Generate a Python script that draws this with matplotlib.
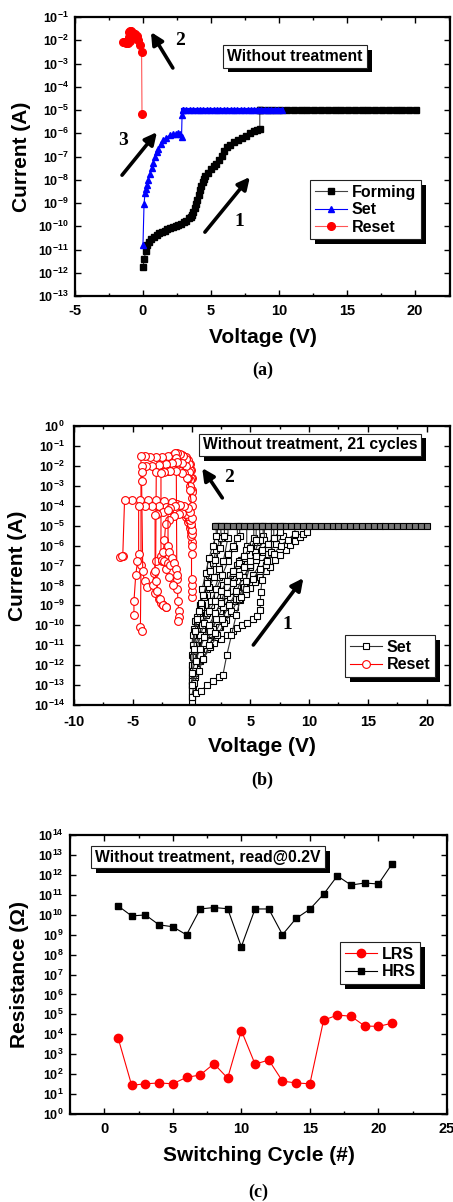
"""Forming / set / reset curves and resistance vs cycle"""
import numpy as np
import matplotlib
matplotlib.use('Agg')
import matplotlib.pyplot as plt
import matplotlib.patheffects as pe
from matplotlib.ticker import LogLocator, NullLocator, AutoMinorLocator, FuncFormatter, MultipleLocator

plt.rcParams['font.family'] = 'Liberation Sans'
plt.rcParams['font.weight'] = 'bold'
plt.rcParams['axes.unicode_minus'] = False
plt.rcParams['mathtext.fontset'] = 'custom'
plt.rcParams['mathtext.rm'] = 'Liberation Sans'
plt.rcParams['mathtext.bf'] = 'Liberation Sans:bold'

# ---------------- (a) without treatment, single sweep ----------------
forming_V = [0, 0.1, 0.2, 0.3, 0.45, 0.6, 0.8, 1.0, 1.2, 1.4, 1.6, 1.8, 2.0, 2.2, 2.4, 2.6,
             2.8, 3.0, 3.2, 3.4, 3.5, 3.6, 3.7, 3.8, 3.9, 4.0, 4.1, 4.2, 4.3, 4.4, 4.5, 4.6,
             4.8, 5.0, 5.2, 5.4, 5.6, 5.8, 6.0, 6.2, 6.4, 6.7, 7.0, 7.3, 7.6, 7.9, 8.2, 8.4, 8.6]
forming_I = [1.7e-12, 4e-12, 9e-12, 1.5e-11, 2.2e-11, 2.8e-11, 3.5e-11, 4.2e-11, 5e-11, 5.8e-11,
             6.6e-11, 7.4e-11, 8.3e-11, 9.2e-11, 1.02e-10, 1.15e-10, 1.3e-10, 1.5e-10, 1.75e-10,
             2.2e-10, 2.6e-10, 3.2e-10, 4.2e-10, 6e-10, 9e-10, 1.4e-9, 2.2e-9, 3.5e-9, 5.5e-9,
             8e-9, 1.1e-8, 1.4e-8, 2e-8, 2.8e-8, 3.8e-8, 5e-8, 7e-8, 1.1e-7, 1.7e-7, 2.5e-7,
             3.2e-7, 4.2e-7, 5.2e-7, 6.5e-7, 8e-7, 1e-6, 1.2e-6, 1.4e-6, 1.6e-6]
forming_cc_V = [8.6, 9.1, 9.6, 10.1, 10.6, 11.1, 11.6, 12.1, 12.6, 13.1, 13.6, 14.1, 14.6, 15.1,
                15.6, 16.1, 16.6, 17.1, 17.6, 18.1, 18.6, 19.1, 19.6, 20.1]
set_V = [0.0, 0.08, 0.15, 0.22, 0.3, 0.39, 0.5, 0.64, 0.76, 0.88, 1.0, 1.13, 1.3, 1.5, 1.7,
         1.99, 2.2, 2.4, 2.6, 2.75, 2.84, 2.88]
set_I = [1.5e-11, 9e-10, 2.6e-9, 4e-9, 6e-9, 1e-8, 1.7e-8, 3.1e-8, 5.5e-8, 1e-7, 1.5e-7,
         2.2e-7, 3.5e-7, 5.1e-7, 6.5e-7, 8.3e-7, 9e-7, 9.5e-7, 1e-6, 9e-7, 7e-7, 6.3e-6]
set_cc_V = [2.95, 3.2, 3.45, 3.7, 3.95, 4.2, 4.45, 4.7, 4.95, 5.2, 5.45, 5.7, 5.95, 6.2, 6.45,
            6.7, 6.95, 7.2, 7.45, 7.7, 7.95, 8.2, 8.45, 8.7, 8.95, 9.2, 9.45, 9.7, 9.95, 10.2]
compliance = 1e-5
reset_V = [-0.07, -0.1, -0.2, -0.33, -0.47, -0.6, -0.71, -0.85, -0.96, -1.05, -1.04, -0.93,
           -1.1, -1.25, -1.4, -1.45]
reset_I = [6.8e-6, 3e-3, 6.3e-3, 1e-2, 1.5e-2, 1.8e-2, 2.1e-2, 2.4e-2, 2.6e-2, 2.3e-2, 1.4e-2,
           9.5e-3, 8e-3, 8e-3, 8.5e-3, 8.7e-3]

# ---------------- (b) 21 cycles (log10 of current) ----------------
b_set_V = [
    [0.0, 0.17, 0.45, 0.74, 1.15, 1.6, 2.0, 2.44, 2.9, 3.3, 3.7, 4.15, 4.6, 5.0, 5.4, 5.85, 6.3, 6.7, 7.1, 7.56, 8.0, 8.4, 8.8, 9.2, 9.5, 9.83, 9.83],
    [0.0, 0.3, 0.8, 1.5, 2.3, 3.0, 3.8, 4.5, 5.2, 5.9, 6.5, 7.2, 7.8, 7.8],
    [0.0, 0.1, 0.2, 0.4, 0.7, 1.0, 1.3, 1.6, 1.9, 2.2, 2.2],
    [0.0, 0.2, 0.5, 0.9, 1.3, 1.8, 2.3, 2.7, 3.1, 3.1],
    [0.0, 0.3, 0.7, 1.2, 1.8, 2.4, 3.0, 3.6, 4.2, 4.7, 4.7],
    [0.0, 0.4, 0.74, 1.3, 1.88, 2.5, 3.0, 3.5, 3.86, 4.3, 4.7, 5.2, 5.6, 5.85, 5.85, 5.9, 6.0, 6.3, 6.8, 6.8],
    [0.0, 0.2, 0.5, 0.8, 1.2, 1.7, 2.2, 2.7, 3.3, 3.9, 4.5, 5.1, 5.6, 6.1, 6.1],
    [0.0, 0.15, 0.3, 0.6, 1.0, 1.5, 2.0, 2.5, 3.0, 3.5, 4.0, 4.6, 5.3, 5.3],
    [0.0, 0.1, 0.3, 0.6, 0.9, 1.2, 1.5, 1.8, 2.1, 2.5, 2.5],
    [0.0, 0.5, 1.0, 1.6, 2.2, 2.8, 3.4, 4.0, 4.6, 5.2, 5.8, 6.4, 7.0, 7.6, 8.2, 8.8, 8.8],
    [0.0, 0.1, 0.2, 0.35, 0.5, 0.7, 0.9, 1.2, 1.5, 1.8, 2.1, 2.1],
    [0.0, 0.3, 0.7, 1.1, 1.6, 2.1, 2.7, 3.3, 3.9, 4.4, 5.0, 5.5, 6.0, 6.5, 7.0, 7.0],
    [0.0, 0.15, 0.35, 0.6, 0.9, 1.3, 1.7, 2.1, 2.6, 3.1, 3.6, 4.1, 4.1],
    [0.0, 0.25, 0.6, 1.0, 1.5, 2.0, 2.6, 3.2, 3.8, 4.4, 5.0, 5.6, 6.2, 6.2],
    [0.0, 0.4, 0.8, 1.3, 1.8, 2.3, 2.67, 3.0, 3.4, 3.8, 4.2, 4.6, 5.0, 5.4, 5.8, 5.8],
    [0.0, 0.1, 0.25, 0.5, 0.8, 1.1, 1.5, 1.9, 2.3, 2.7, 3.1, 3.5, 3.9, 3.9],
    [0.0, 0.2, 0.45, 0.75, 1.1, 1.5, 2.0, 2.5, 3.0, 3.5, 4.0, 4.5, 5.0, 5.5, 5.5],
    [0.0, 0.1, 0.2, 0.3, 0.45, 0.6, 0.8, 1.0, 1.3, 1.6, 2.0, 2.4, 2.8, 2.8],
    [0.0, 0.35, 0.7, 1.1, 1.5, 2.0, 2.5, 3.0, 3.5, 4.0, 4.5, 5.0, 5.5, 6.0, 6.5, 7.0, 7.5, 7.5],
]
b_set_logI = [
    [-12.6, -12.07, -11.7, -11.4, -11.05, -10.74, -10.4, -10.07, -9.73, -9.4, -9.07, -8.73, -8.43, -8.14, -7.85, -7.56, -7.3, -7.06, -6.75, -6.47, -6.2, -5.97, -5.75, -5.55, -5.42, -5.3, -5.0],
    [-13.0, -12.3, -11.6, -10.8, -10.1, -9.4, -8.7, -8.1, -7.5, -6.9, -6.4, -5.9, -5.5, -5.0],
    [-12.5, -11.5, -10.5, -9.8, -9.0, -8.3, -7.6, -7.0, -6.5, -5.8, -5.0],
    [-13.2, -12.0, -11.0, -10.2, -9.3, -8.5, -7.6, -6.8, -5.6, -5.0],
    [-13.5, -12.6, -11.8, -11.0, -10.2, -9.3, -8.5, -7.6, -6.7, -6.0, -5.0],
    [-13.0, -12.2, -11.57, -11.2, -10.9, -10.7, -10.5, -10.3, -10.15, -10.0, -9.9, -9.7, -9.53, -9.23, -8.81, -8.31, -7.72, -7.0, -6.3, -5.0],
    [-12.0, -11.0, -10.3, -9.9, -9.5, -9.0, -8.5, -8.0, -7.5, -7.0, -6.6, -6.1, -5.8, -5.5, -5.0],
    [-13.8, -13.2, -12.5, -11.8, -11.0, -10.2, -9.5, -8.8, -8.1, -7.4, -6.8, -6.2, -5.6, -5.0],
    [-11.5, -10.5, -9.8, -9.4, -9.0, -8.2, -7.5, -6.9, -6.2, -5.6, -5.0],
    [-12.8, -12.2, -11.7, -11.1, -10.5, -9.9, -9.3, -8.7, -8.2, -7.7, -7.2, -6.8, -6.4, -6.0, -5.7, -5.4, -5.0],
    [-12.8, -12.0, -11.3, -10.5, -9.8, -9.0, -8.2, -7.4, -6.6, -6.0, -5.5, -5.0],
    [-13.3, -12.4, -11.5, -10.9, -10.3, -9.7, -9.1, -8.6, -8.1, -7.6, -7.1, -6.7, -6.3, -5.9, -5.6, -5.0],
    [-12.2, -11.6, -11.0, -10.5, -10.0, -9.4, -8.8, -8.2, -7.5, -6.8, -6.1, -5.5, -5.0],
    [-13.6, -12.9, -12.3, -11.7, -11.0, -10.4, -9.7, -9.0, -8.3, -7.6, -7.0, -6.3, -5.7, -5.0],
    [-13.6, -13.4, -13.3, -13.0, -12.8, -12.6, -12.5, -11.5, -10.5, -9.5, -8.6, -7.8, -7.0, -6.3, -5.7, -5.0],
    [-12.0, -11.0, -10.2, -9.6, -9.1, -8.6, -8.1, -7.6, -7.2, -6.8, -6.4, -6.0, -5.6, -5.0],
    [-13.0, -12.0, -11.2, -10.5, -9.9, -9.3, -8.8, -8.3, -7.8, -7.3, -6.9, -6.5, -6.1, -5.7, -5.0],
    [-13.0, -12.3, -11.2, -10.3, -9.7, -9.3, -8.9, -8.5, -7.9, -7.3, -6.7, -6.1, -5.5, -5.0],
    [-12.4, -11.8, -11.2, -10.6, -10.0, -9.4, -8.9, -8.4, -7.9, -7.5, -7.1, -6.8, -6.5, -6.2, -5.9, -5.6, -5.3, -5.0],
]
b_cc_V = [2.0, 2.5, 3.0, 3.5, 4.0, 4.5, 5.0, 5.5, 6.0, 6.5, 7.0, 7.5, 8.0, 8.5, 9.0, 9.5, 10.0,
          10.5, 11.0, 11.5, 12.0, 12.5, 13.0, 13.5, 14.0, 14.5, 15.0, 15.5, 16.0, 16.5, 17.0,
          17.5, 18.0, 18.5, 19.0, 19.5, 20.0]
b_reset_V = [
    [0.0, -0.05, -0.15, -0.3, -0.5, -0.8, -1.2, -1.6, -2.0, -2.5, -3.0, -3.5, -4.0, -4.3, -4.3, -4.35, -4.25],
    [0.0, -0.05, -0.12, -0.25, -0.45, -0.7, -1.0, -1.25, -1.39, -1.3, -1.25, -1.2, -1.15, -1.1, -1.1, -1.12],
    [0.0, -0.1, -0.25, -0.5, -0.8, -1.2, -1.7, -2.2, -2.8, -3.4, -3.9, -4.2, -4.2, -4.25, -4.15, -4.0, -3.8],
    [0.0, -0.1, -0.3, -0.6, -1.0, -1.5, -2.0, -2.5, -3.0, -3.05, -3.2, -3.3, -3.1, -2.8, -2.6, -2.4, -2.2],
    [0.0, -0.15, -0.4, -0.8, -1.3, -1.8, -2.3, -2.6, -2.6, -2.5, -2.2, -1.9, -1.6],
    [0.0, 0.0, 0.0, 0.0, 0.0, 0.0, -0.05, -0.15, -0.3, -0.5, -0.8, -1.2, -1.7, -2.3, -3.0, -3.7, -4.4, -5.1, -5.7, -5.85, -6.05, -5.95],
    [0.0, -0.05, -0.15, -0.3, -0.5, -0.8, -1.2, -1.7, -2.2, -2.8, -3.4, -4.0, -4.5, -4.5, -4.6, -4.75, -4.9, -4.9],
    [0.0, -0.05, -0.2, -0.4, -0.7, -1.0, -1.4, -1.9, -2.4, -2.9, -3.1, -3.1, -3.0, -2.9, -2.7, -2.4, -2.2],
    [0.0, -0.05, -0.15, -0.3, -0.5, -0.8, -1.1, -1.5, -1.9, -2.2, -2.3, -2.4, -2.5, -2.3, -2.0, -1.8],
    [0.0, -0.1, -0.3, -0.6, -1.0, -1.4, -1.8, -2.0, -2.0, -1.9, -1.7, -1.5, -1.3, -1.2],
]
b_reset_logI = [
    [-2.6, -2.2, -1.9, -1.7, -1.55, -1.45, -1.42, -1.45, -1.5, -1.55, -1.55, -1.55, -1.52, -1.5, -7.0, -10.1, -10.3],
    [-3.2, -2.6, -2.2, -1.9, -1.65, -1.5, -1.42, -1.38, -1.37, -1.6, -7.7, -8.2, -8.8, -9.3, -9.6, -9.8],
    [-3.3, -2.7, -2.3, -2.0, -1.85, -1.8, -1.85, -1.9, -1.95, -2.0, -2.0, -2.0, -2.3, -2.75, -7.3, -7.8, -8.1],
    [-3.6, -3.0, -2.6, -2.35, -2.25, -2.2, -2.25, -2.3, -2.3, -6.8, -7.4, -8.0, -8.4, -8.7, -8.9, -9.0, -9.1],
    [-4.0, -3.2, -2.6, -2.35, -2.25, -2.25, -2.3, -2.35, -6.5, -6.8, -7.2, -7.6, -8.0],
    [-8.6, -8.3, -8.0, -7.7, -6.4, -5.8, -5.3, -4.9, -4.5, -4.25, -4.05, -3.9, -3.8, -3.75, -3.72, -3.72, -3.72, -3.72, -3.73, -6.5, -6.55, -6.5],
    [-6.0, -5.5, -5.1, -4.8, -4.55, -4.35, -4.2, -4.1, -4.05, -4.0, -4.0, -4.0, -4.0, -6.4, -6.8, -7.5, -8.8, -9.5],
    [-5.4, -5.0, -4.7, -4.45, -4.3, -4.2, -4.15, -4.2, -4.3, -4.4, -4.45, -7.3, -7.8, -8.3, -8.7, -9.0, -9.1],
    [-5.2, -4.9, -4.7, -4.5, -4.4, -4.35, -4.4, -4.5, -4.7, -4.9, -5.7, -6.3, -6.7, -6.8, -6.9, -7.0],
    [-4.6, -4.3, -4.1, -4.0, -3.95, -4.0, -4.1, -4.2, -6.0, -6.3, -6.6, -6.9, -7.2, -7.5],
]

# ---------------- (c) resistance read @0.2V ----------------
cycles = list(range(1, 22))
lrs = [6.9e3, 27.5, 33, 36, 33, 69, 91, 335, 63, 1.55e4, 320, 510, 45, 36, 33,
       5.1e4, 9.2e4, 8.1e4, 2.6e4, 2.5e4, 3.6e4]
hrs = [2.8e10, 8.7e9, 9.8e9, 3.1e9, 2.5e9, 9.8e8, 1.95e10, 2.3e10, 2.0e10, 2.5e8, 1.95e10,
       1.95e10, 1e9, 6.6e9, 1.9e10, 1.07e11, 8.9e11, 3.1e11, 3.9e11, 3.5e11, 3.6e12]


def sci(v, pos):
    return r'$\mathbf{10^{%d}}$' % int(round(np.log10(v)))


def style(ax, xlim, ylim, xmaj, xpad=6, ypad=4.5):
    ax.set_yscale('log')
    ax.set_xlim(*xlim)
    ax.set_ylim(*ylim)
    ax.yaxis.set_major_locator(LogLocator(base=10, numticks=30))
    ax.yaxis.set_minor_locator(NullLocator())
    ax.yaxis.set_major_formatter(FuncFormatter(sci))
    ax.xaxis.set_major_locator(MultipleLocator(xmaj))
    ax.xaxis.set_minor_locator(AutoMinorLocator(2))
    ax.tick_params(which='both', direction='in', top=True, right=True, width=1)
    ax.tick_params(which='major', length=4)
    ax.tick_params(which='minor', length=2.5)
    ax.tick_params(axis='x', labelsize=10.5, pad=xpad)
    ax.tick_params(axis='y', labelsize=9, pad=ypad)
    for s in ax.spines.values():
        s.set_linewidth(1.6)


def shadow_box(ax, x, y, s):
    t = ax.text(x, y, s, transform=ax.transAxes, ha='center', va='center', fontsize=11.3,
                fontweight='bold',
                bbox=dict(boxstyle='square,pad=0.25', fc='white', ec='#222222', lw=0.8))
    t.get_bbox_patch().set_path_effects([
        pe.SimplePatchShadow(offset=(3.5, -3.5), shadow_rgbFace='black', alpha=1), pe.Normal()])


def shadow_legend(ax, handles, labels, x, y):
    leg = ax.legend(handles, labels, loc='upper left', bbox_to_anchor=(x, y), borderaxespad=0,
                    fontsize=11.5, handlelength=2.0, handletextpad=0.3, labelspacing=0.15,
                    borderpad=0.3, fancybox=False, framealpha=1, edgecolor='#222222')
    leg.get_frame().set_linewidth(0.8)
    leg.get_frame().set_path_effects([
        pe.SimplePatchShadow(offset=(3.5, -3.5), shadow_rgbFace='black', alpha=1), pe.Normal()])


def arrow(ax, tail, head):
    ax.annotate('', xy=head, xytext=tail,
                arrowprops=dict(arrowstyle='-|>', lw=2.6, color='black', mutation_scale=18,
                                shrinkA=0, shrinkB=0))


def num(ax, x, y, s):
    ax.text(x, y, s, ha='center', va='center', fontsize=14, fontweight='bold',
            family='Liberation Serif')


fig = plt.figure(figsize=(4.53, 12.02), dpi=100)

# ----- (a)
ax = fig.add_axes([0.1656, 0.7537, 0.8278, 0.2321])
style(ax, (-5, 22.6), (1e-13, 1e-1), 5)
h1, = ax.plot(forming_V + [8.6], forming_I + [compliance], color='#444444', lw=0.8,
              marker='s', ms=4.8, mfc='black', mec='black')
ax.plot(forming_cc_V, [compliance] * len(forming_cc_V), color='black', lw=3,
        marker='s', ms=4.8, mfc='black', mec='black')
h2, = ax.plot(set_V + [set_cc_V[0]], set_I + [compliance], color='blue', lw=0.8,
              marker='^', ms=5, mfc='blue', mec='blue')
ax.plot(set_cc_V, [compliance] * len(set_cc_V), color='blue', lw=3,
        marker='^', ms=5, mfc='blue', mec='blue')
h3, = ax.plot(reset_V, reset_I, color='#ff5555', lw=0.8, marker='o', ms=5.5,
              mfc='red', mec='red')
ax.set_xlabel('Voltage (V)', fontsize=15, fontweight='bold')
ax.set_ylabel('Current (A)', fontsize=15, fontweight='bold')
ax.xaxis.set_label_coords(0.5, -0.115)
ax.yaxis.set_label_coords(-0.118, 0.5)
shadow_box(ax, 0.587, 0.86, 'Without treatment')
shadow_legend(ax, [h1, h2, h3], ['Forming', 'Set', 'Reset'], 0.627, 0.416)
arrow(ax, (2.2, 10 ** -3.19), (0.59, 10 ** -1.645))
num(ax, 2.75, 10 ** -2.0, '2')
arrow(ax, (-1.54, 10 ** -7.8), (1.03, 10 ** -5.95))
num(ax, -1.45, 10 ** -6.3, '3')
arrow(ax, (4.56, 10 ** -10.25), (7.87, 10 ** -7.88))
num(ax, 7.1, 10 ** -9.8, '1')
fig.text(0.5795, 0.6922, '(a)', ha='center', va='center', fontsize=13, fontweight='bold',
         family='Liberation Serif')

# ----- (b)
ax = fig.add_axes([0.1634, 0.4135, 0.8300, 0.2321])
style(ax, (-10, 22), (1e-14, 1e0), 5, xpad=7.5, ypad=6.5)
for v, li in zip(b_reset_V, b_reset_logI):
    hr, = ax.plot(v, 10.0 ** np.array(li), color='red', lw=0.8, marker='o', ms=5.6,
                  mfc='white', mec='red', mew=0.8)
for v, li in zip(b_set_V, b_set_logI):
    hs, = ax.plot(v, 10.0 ** np.array(li), color='#333333', lw=0.8, marker='s', ms=5,
                  mfc='white', mec='black', mew=0.8)
ax.plot(b_cc_V, [compliance] * len(b_cc_V), color='#333333', lw=0.8, marker='s', ms=5,
        mfc='#777777', mec='black', mew=0.8)
ax.set_xlabel('Voltage (V)', fontsize=15, fontweight='bold')
ax.set_ylabel('Current (A)', fontsize=15, fontweight='bold')
ax.xaxis.set_label_coords(0.5, -0.115)
ax.yaxis.set_label_coords(-0.125, 0.5)
shadow_box(ax, 0.628, 0.932, 'Without treatment, 21 cycles')
shadow_legend(ax, [hs, hr], ['Set', 'Reset'], 0.721, 0.251)
arrow(ax, (2.62, 10 ** -3.61), (0.91, 10 ** -2.11))
num(ax, 3.2, 10 ** -2.56, '2')
arrow(ax, (5.26, 10 ** -10.99), (9.52, 10 ** -7.63))
num(ax, 8.16, 10 ** -9.98, '1')
fig.text(0.578, 0.3511, '(b)', ha='center', va='center', fontsize=13, fontweight='bold',
         family='Liberation Serif')

# ----- (c)
ax = fig.add_axes([0.1545, 0.0732, 0.8322, 0.2321])
style(ax, (-2.5, 25), (1e0, 1e14), 5)
hl, = ax.plot(cycles, lrs, color='red', lw=0.8, marker='o', ms=6, mfc='red', mec='red')
hh, = ax.plot(cycles, hrs, color='black', lw=0.8, marker='s', ms=5, mfc='black', mec='black')
ax.set_xlabel('Switching Cycle (#)', fontsize=15, fontweight='bold')
ax.set_ylabel('Resistance (\u03a9)', fontsize=15, fontweight='bold')
ax.xaxis.set_label_coords(0.5, -0.115)
ax.yaxis.set_label_coords(-0.11, 0.5)
shadow_box(ax, 0.366, 0.921, 'Without treatment, read@0.2V')
shadow_legend(ax, [hl, hh], ['LRS', 'HRS'], 0.716, 0.616)
fig.text(0.5706, 0.0083, '(c)', ha='center', va='center', fontsize=13, fontweight='bold',
         family='Liberation Serif')

fig.savefig('out.png', dpi=100)
